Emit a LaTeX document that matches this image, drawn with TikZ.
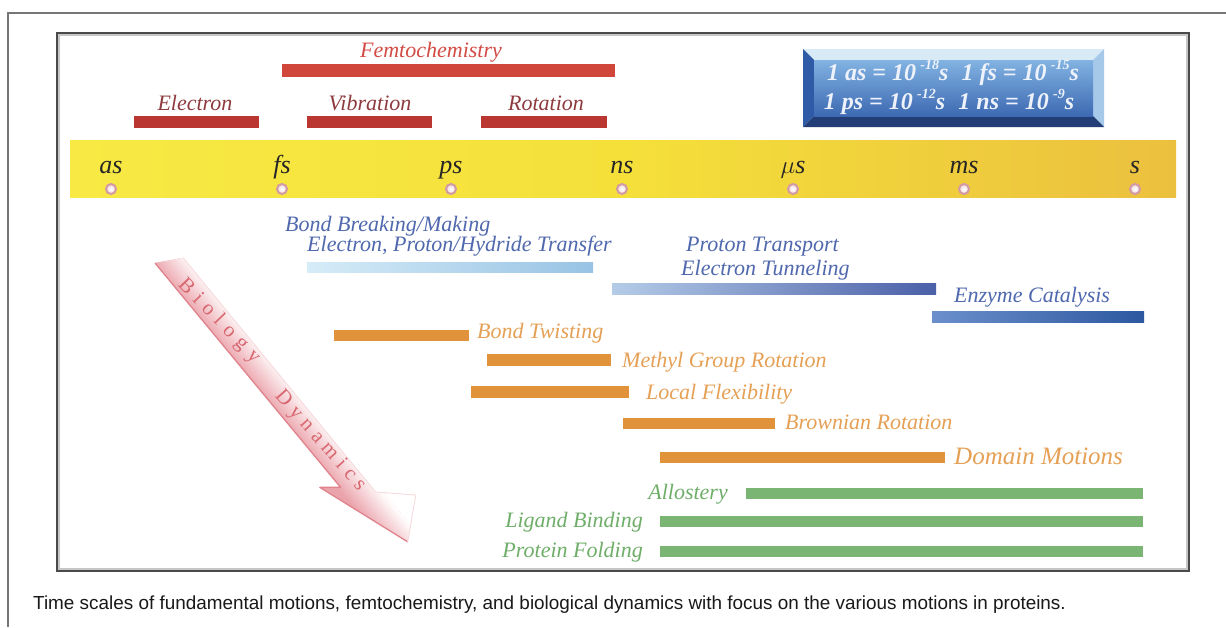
\documentclass[tikz,border=0pt]{standalone}
\usepackage{fontspec}
\setmainfont{Liberation Serif}
\setsansfont{Liberation Sans}
\definecolor{framegray}{HTML}{767676}
\definecolor{framedark}{HTML}{4A4A4A}
\definecolor{bandL}{HTML}{F8E944}
\definecolor{bandM}{HTML}{F5E03A}
\definecolor{bandR}{HTML}{EBC03E}
\definecolor{femred}{HTML}{D0463A}
\definecolor{barred}{HTML}{B93631}
\definecolor{femtxt}{HTML}{D24B45}
\definecolor{redtxt}{HTML}{8E3B3F}
\definecolor{ringpink}{HTML}{D49AA3}
\definecolor{bluetxt}{HTML}{4F68AE}
\definecolor{b1L}{HTML}{D6ECF8}
\definecolor{b1R}{HTML}{98C3E4}
\definecolor{b2L}{HTML}{B5CCE8}
\definecolor{b2R}{HTML}{4A60A8}
\definecolor{b3L}{HTML}{6B8FCB}
\definecolor{b3R}{HTML}{2D58A0}
\definecolor{orbar}{HTML}{E0933B}
\definecolor{ortxt}{HTML}{E6A055}
\definecolor{grbar}{HTML}{7BB573}
\definecolor{grtxt}{HTML}{6FAE69}
\definecolor{arrpink}{HTML}{EBA3AB}
\definecolor{arredge}{HTML}{E0838D}
\definecolor{arrtxt}{HTML}{D8676F}
\definecolor{bxtop}{HTML}{D7EAF6}
\definecolor{bxleft}{HTML}{2F5BA6}
\definecolor{bxright}{HTML}{A6C8E9}
\definecolor{bxbot}{HTML}{233E77}
\definecolor{bxfaceT}{HTML}{82B3E2}
\definecolor{bxfaceB}{HTML}{3C69B2}
\definecolor{bxtxt}{HTML}{EEF2FA}
\newcommand{\supx}[1]{\hspace{0.18em}\raisebox{0.45em}{\fontsize{14}{14}\selectfont #1}}
\newcommand{\gp}{\hspace{7pt}}
\newcommand{\gq}{\hspace{6pt}}
\begin{document}
\begin{tikzpicture}[x=1pt,y=-1pt,
  lbl/.style={inner sep=0pt, font=\fontsize{22}{26}\selectfont\itshape},
  tick/.style={inner sep=0pt, font=\fontsize{26}{30}\selectfont\itshape, text=black!85, anchor=base},
  dot/.style={circle, minimum size=10pt, inner sep=0pt, draw=ringpink, line width=2pt, inner color=white, outer color=ringpink!40},
  bio/.style={inner sep=0pt, font=\fontsize{21}{24}\selectfont, text=arrtxt},
  bxt/.style={inner sep=0pt, font=\fontsize{24}{28}\selectfont\bfseries\itshape, text=bxtxt, anchor=base}]
\useasboundingbox (0,0) rectangle (1226,627);
\fill[white] (0,0) rectangle (1226,627);
% outer frame
\draw[framegray, line width=2pt] (1226,13) -- (8,13) -- (8,627);
% inner frame
\draw[gray!45, line width=2pt] (59,35) rectangle (1187,569);
\draw[framedark, line width=2pt] (57,33) rectangle (1189,571);
% yellow band
\shade[left color=bandL, right color=bandR, middle color=bandM] (70,140) rectangle (1176,197);
% ticks
\foreach \t/\x [count=\i] in {as/111, fs/282, ps/451, ns/622, $\mu$s/793, ms/964, s/1135}{
  \node[tick] (t\i) at (\x,173) {\t};
  \node[dot] (d\i) at (\x,189) {};
}
% red bars
\fill[femred] (282,64) rectangle (615,77);
\node[lbl, text=femtxt, anchor=base] (femto) at (431,57) {Femtochemistry};
\fill[barred] (134,116) rectangle (259,128);
\fill[barred] (307,116) rectangle (432,128);
\fill[barred] (481,116) rectangle (607,128);
\node[lbl, text=redtxt, anchor=base] (elec) at (195,110) {Electron};
\node[lbl, text=redtxt, anchor=base] (vib) at (370,110) {Vibration};
\node[lbl, text=redtxt, anchor=base] (rot) at (546,110) {Rotation};
% unit box
\fill[bxtop] (803,49) -- (1104,49) -- (1093,60) -- (814,60) -- cycle;
\fill[bxleft] (803,49) -- (814,60) -- (814,116) -- (803,127) -- cycle;
\fill[bxright] (1104,49) -- (1104,127) -- (1093,116) -- (1093,60) -- cycle;
\fill[bxbot] (803,127) -- (1104,127) -- (1093,116) -- (814,116) -- cycle;
\shade[top color=bxfaceT, bottom color=bxfaceB] (814,60) rectangle (1093,116);
\node[bxt] (u1) at (953,80) {1 as = 10\supx{-18}s\hspace{0.55em}1 fs = 10\supx{-15}s};
\node[bxt] (u2) at (949,109) {1 ps = 10\supx{-12}s\hspace{0.55em}1 ns = 10\supx{-9}s};
% blue group
\node[lbl, text=bluetxt, anchor=base west] (bbm) at (285,231) {Bond Breaking/Making};
\node[lbl, text=bluetxt, anchor=base west] (ept) at (307,251) {Electron, Proton/Hydride Transfer};
\shade[left color=b1L, right color=b1R] (307,262) rectangle (593,272);
\node[lbl, text=bluetxt, anchor=base west] (pt) at (686,251) {Proton Transport};
\node[lbl, text=bluetxt, anchor=base west] (et) at (681,275) {Electron Tunneling};
\shade[left color=b2L, right color=b2R] (612,283) rectangle (936,294);
\node[lbl, text=bluetxt, anchor=base west] (ec) at (954,302) {Enzyme Catalysis};
\shade[left color=b3L, right color=b3R] (932,311) rectangle (1144,322);
% orange group
\fill[orbar] (334,330) rectangle (469,341);
\node[lbl, text=ortxt, anchor=base west] (bt) at (477,338) {Bond Twisting};
\fill[orbar] (487,354) rectangle (611,366);
\node[lbl, text=ortxt, anchor=base west] (mgr) at (622,367) {Methyl Group Rotation};
\fill[orbar] (471,386) rectangle (629,398);
\node[lbl, text=ortxt, anchor=base west] (lf) at (646,399) {Local Flexibility};
\fill[orbar] (623,418) rectangle (775,429);
\node[lbl, text=ortxt, anchor=base west] (br) at (785,429) {Brownian Rotation};
\fill[orbar] (660,452) rectangle (945,463);
\node[lbl, text=ortxt, anchor=base west, font=\fontsize{25}{29}\selectfont\itshape] (dm) at (954,464) {Domain Motions};
% green group
\fill[grbar] (746,488) rectangle (1143,499);
\node[lbl, text=grtxt, anchor=base east] (al) at (728,499) {Allostery};
\fill[grbar] (660,516) rectangle (1143,527);
\node[lbl, text=grtxt, anchor=base east] (lb) at (643,527) {Ligand Binding};
\fill[grbar] (660,546) rectangle (1143,557);
\node[lbl, text=grtxt, anchor=base east] (pf) at (643,557) {Protein Folding};
% biology dynamics arrow (drawn in a frame along the arrow; explicit pt = math coordinates)
\begin{scope}[transform canvas={shift={(155pt,-263pt)}, rotate=-50.4}]
  \begin{scope}
    \clip (0pt,0pt) -- (14pt,25pt) -- (317pt,24pt) -- (345pt,53pt) -- (376pt,17pt) -- (278pt,-16pt) -- (291pt,0pt) -- cycle;
    \fill[arrpink] (-10pt,-30pt) rectangle (400pt,70pt);
    \shade[bottom color=arrpink, top color=white] (-10pt,-3pt) rectangle (400pt,30pt);
    \fill[white] (-10pt,30pt) rectangle (400pt,70pt);
  \end{scope}
  \draw[arredge, line width=1.3pt, line join=round] (0pt,0pt) -- (291pt,0pt) -- (278pt,-16pt) -- (376pt,17pt);
  \draw[arrpink!40, line width=0.8pt] (14pt,25pt) -- (317pt,24pt) -- (345pt,53pt) -- (376pt,17pt);
\end{scope}
\node[bio, rotate=-46] (biology) at (219,321) {B\gp i\gp o\gp l\gp o\gp g\gp y};
\node[bio, rotate=-48.5] (dynamics) at (320,441) {D\gq y\gq n\gq a\gq m\gq i\gq c\gq s};
% caption
\node[inner sep=0pt, anchor=base west, font=\sffamily\fontsize{18.9}{22}\selectfont, text=black!90] (cap) at (33,609)
  {Time scales of fundamental motions, femtochemistry, and biological dynamics with focus on the various motions in proteins.};
\end{tikzpicture}
\end{document}
